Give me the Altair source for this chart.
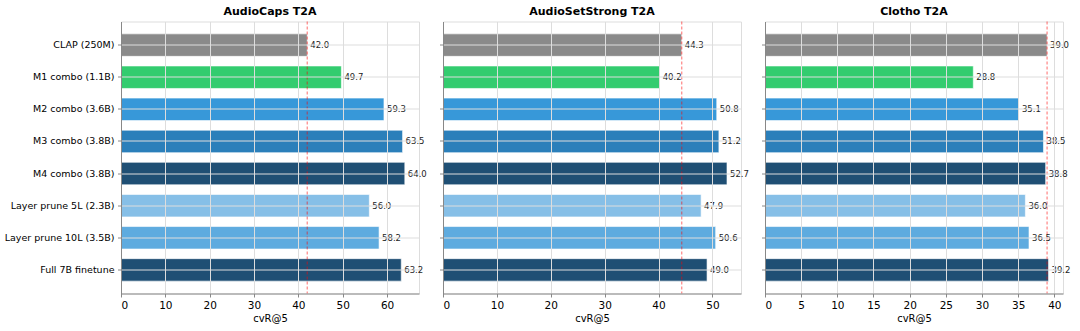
import altair as alt
import pandas as pd

models = [
    "CLAP (250M)",
    "M1 combo (1.1B)",
    "M2 combo (3.6B)",
    "M3 combo (3.8B)",
    "M4 combo (3.8B)",
    "Layer prune 5L (2.3B)",
    "Layer prune 10L (3.5B)",
    "Full 7B finetune",
]
bar_colors = ["#8a8a8a", "#33cc6f", "#3798d9", "#2b7fba", "#1f4f74", "#86bfe7", "#5eabdf", "#1f4f74"]

panel_titles = ["AudioCaps T2A", "AudioSetStrong T2A", "Clotho T2A"]
audiocaps = [42.0, 49.7, 59.3, 63.5, 64.0, 56.0, 58.2, 63.2]
audiosetstrong = [44.3, 40.2, 50.8, 51.2, 52.7, 47.9, 50.6, 49.0]
clotho = [39.0, 28.8, 35.1, 38.5, 38.8, 36.0, 36.5, 39.2]
x_max = [67.2, 55.3, 41.2]
x_ticks = [[0, 10, 20, 30, 40, 50, 60], [0, 10, 20, 30, 40, 50], [0, 5, 10, 15, 20, 25, 30, 35, 40]]

FONT = "DejaVu Sans"


def panel(title, values, xmax, ticks, first):
    df = pd.DataFrame({"model": models, "value": values})
    base_df = pd.DataFrame({"value": [values[0]]})
    x = alt.X(
        "value:Q",
        scale=alt.Scale(domain=[0, xmax], nice=False, zero=True),
        axis=alt.Axis(
            title="cvR@5", values=ticks, format="d", grid=True, zindex=1,
            tickSize=3.5, labelPadding=3, labelFontSize=10.5, titleFontSize=10,
            titlePadding=3, titleFontWeight="normal", labelFont=FONT, titleFont=FONT,
        ),
    )
    y = alt.Y(
        "model:N",
        sort=models,
        scale=alt.Scale(paddingInner=0.3, paddingOuter=0.385),
        axis=alt.Axis(
            title=None, labels=first, grid=True, zindex=1, bandPosition=0.5,
            tickSize=3.5, labelPadding=3.5, labelFontSize=9.5, labelFont=FONT, labelLimit=300,
        ),
    )
    bars = alt.Chart(df).mark_bar(stroke="white", strokeWidth=1, strokeOpacity=0.6).encode(
        x=x, y=y,
        color=alt.Color("model:N", scale=alt.Scale(domain=models, range=bar_colors), legend=None),
    )
    labels = alt.Chart(df).mark_text(align="left", baseline="middle", dx=3, fontSize=8.5, color="#222", font=FONT).encode(
        x=x, y=y, text=alt.Text("value:Q", format=".1f")
    )
    rule = alt.Chart(base_df).mark_rule(color="red", strokeDash=[3, 2], opacity=0.45, strokeWidth=1.3).encode(x=x)
    return alt.layer(bars, rule, labels).properties(
        width=298, height=272,
        title=alt.TitleParams(title, fontSize=11, fontWeight="bold", font=FONT, color="black", offset=4),
    )


charts = [
    panel(panel_titles[0], audiocaps, x_max[0], x_ticks[0], True),
    panel(panel_titles[1], audiosetstrong, x_max[1], x_ticks[1], False),
    panel(panel_titles[2], clotho, x_max[2], x_ticks[2], False),
]

chart = alt.hconcat(*charts, spacing=24, bounds="flush").properties(
    padding={"left": 3, "top": 4.5, "right": 0, "bottom": 0}
).configure_view(stroke=None).configure_axis(
    labelFont=FONT, titleFont=FONT, labelColor="black", titleColor="black",
    domainColor="#444", tickColor="#444", domainWidth=1, tickWidth=1,
    gridColor="#bbbbbb", gridOpacity=0.2, gridWidth=0.8,
).configure(background="white", font=FONT)

chart.save("out.html", embed_options={"renderer": "svg", "actions": False})
